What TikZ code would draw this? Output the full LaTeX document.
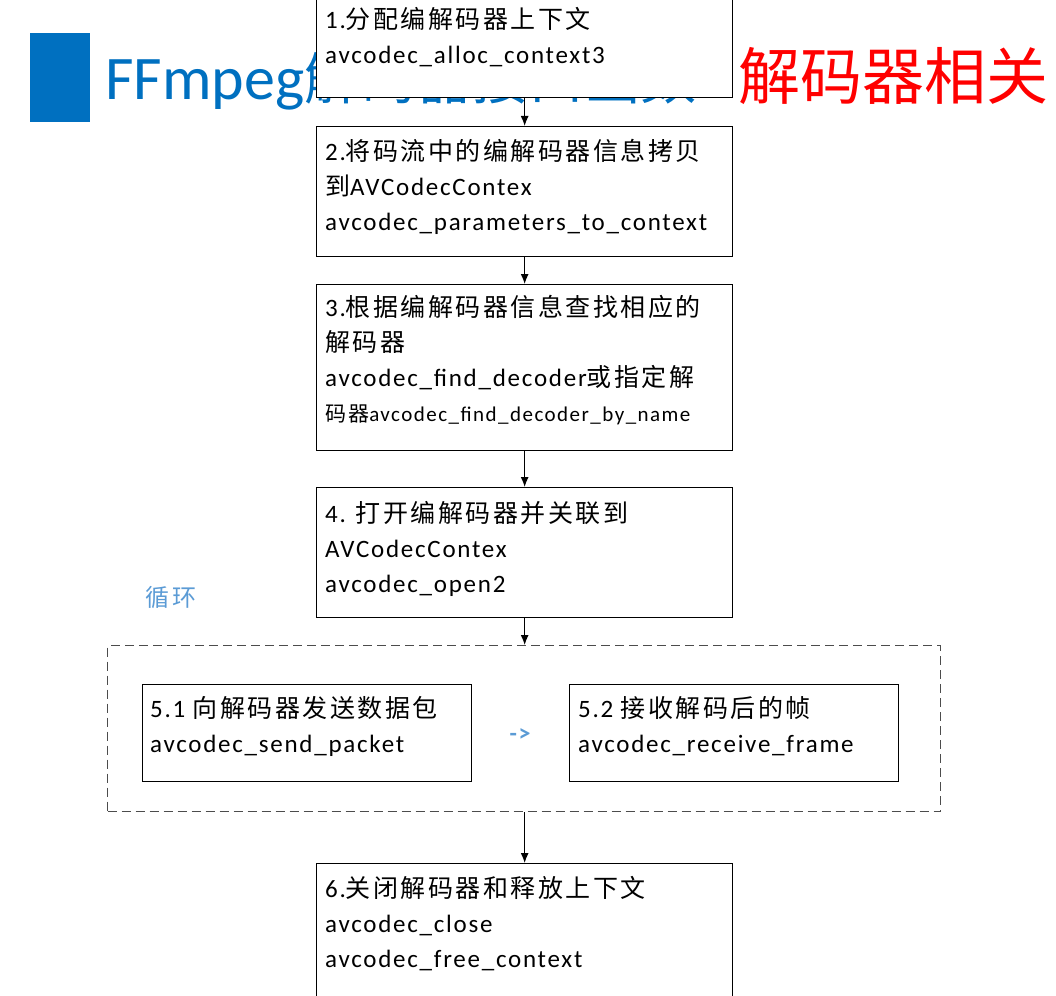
\documentclass[tikz,border=0pt]{standalone}
\usepackage{fontspec}
\setmainfont{Carlito}[LetterSpace=7]
\newfontfamily\cjk{Noto Sans CJK SC}[LetterSpace=10]
\newfontfamily\ttl{Carlito}
\newfontfamily\ttlc{Noto Sans CJK SC}
\usetikzlibrary{arrows.meta}
\begin{document}
\begin{tikzpicture}[x=1pt,y=-1pt,
  box/.style={draw=black,fill=white,line width=1.3pt},
  txt/.style={anchor=north west,align=left,inner sep=0pt,font=\fontsize{25}{35}\selectfont},
  arr/.style={-{Latex[length=10pt,width=8pt]},line width=1.2pt}]
\definecolor{tblue}{RGB}{0,112,192}
\definecolor{lblue}{RGB}{91,155,213}
\useasboundingbox (0,0) rectangle (1056,995);
% title
\fill[tblue] (30,33) rectangle (90,122);
\node[anchor=base west,inner sep=0pt,text=tblue,font=\ttl\fontsize{62}{62}\selectfont] (tl) at (105,100) {FFmpeg{\ttlc\fontsize{56}{56}\selectfont 解码器接口函数}};
\node[anchor=base west,inner sep=0pt,text=red,font=\ttlc\fontsize{62}{62}\selectfont] (tr) at (738,100) {解码器相关};
% boxes
\node[box,minimum width=416,minimum height=104,anchor=north west] (b1) at (316,-7) {};
\node[box,minimum width=416,minimum height=130,anchor=north west] (b2) at (316,126) {};
\node[box,minimum width=416,minimum height=166,anchor=north west] (b3) at (316,284) {};
\node[box,minimum width=416,minimum height=130,anchor=north west] (b4) at (316,487) {};
\node[draw=black!70,line width=1.3pt,dash pattern=on 9pt off 5pt,minimum width=833,minimum height=166,anchor=north west] (loop) at (107,645) {};
\node[box,minimum width=329,minimum height=97,anchor=north west] (b51) at (142,684) {};
\node[box,minimum width=329,minimum height=97,anchor=north west] (b52) at (569,684) {};
\node[box,minimum width=416,minimum height=134,anchor=north west] (b6) at (316,863) {};
% texts
\node[txt] (t1) at (325,7) {1.{\cjk 分配编解码器上下文}\\avcodec\_alloc\_context3};
\node[txt] (t2) at (325,139) {2.{\cjk 将码流中的编解码器信息拷贝}\\{\cjk 到}AVCodecContex\\avcodec\_parameters\_to\_context};
\node[txt] (t3) at (325,295) {3.{\cjk 根据编解码器信息查找相应的}\\{\cjk 解码器}\\avcodec\_find\_decoder{\cjk 或指定解}\\{\fontsize{21}{35}\selectfont\cjk 码器}{\fontsize{21}{35}\selectfont avcodec\_find\_decoder\_by\_name}};
\node[txt] (t4) at (325,501) {4. {\cjk 打开编解码器并关联到}\\AVCodecContex\\avcodec\_open2};
\node[txt] (t51) at (150,696) {5.1 {\cjk 向解码器发送数据包}\\avcodec\_send\_packet};
\node[txt] (t52) at (578,696) {5.2 {\cjk 接收解码后的帧}\\avcodec\_receive\_frame};
\node[txt] (t6) at (325,876) {6.{\cjk 关闭解码器和释放上下文}\\avcodec\_close\\avcodec\_free\_context};
\node[text=lblue,font=\cjk\fontsize{24}{24}\selectfont] (lp) at (171,597) {循环};
\node[text=lblue,font=\bfseries\fontsize{24}{24}\selectfont] (ar) at (520,735) {->};
% arrows
\draw[arr] (b1.south) -- (b2.north);
\draw[arr] (b2.south) -- (b3.north);
\draw[arr] (b3.south) -- (b4.north);
\draw[arr] (b4.south) -- (b4.south |- loop.north);
\draw[arr] (b6.north |- loop.south) -- (b6.north);
\end{tikzpicture}
\end{document}
